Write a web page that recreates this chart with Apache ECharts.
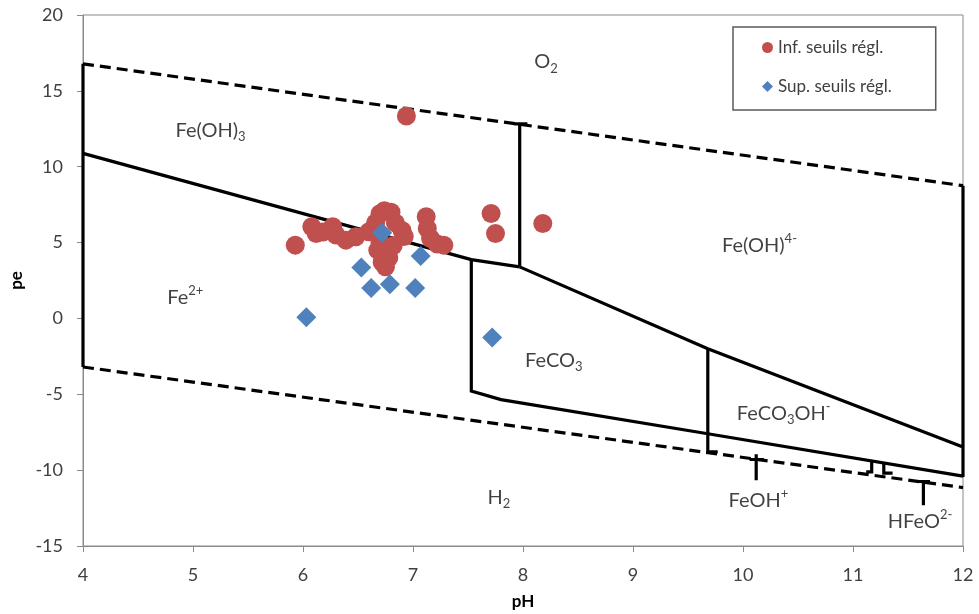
<!DOCTYPE html>
<html>
<head>
<meta charset="utf-8">
<script src="https://cdn.jsdelivr.net/npm/echarts@6/dist/echarts.min.js"></script>
<style>html,body{margin:0;padding:0;background:#fff}#c{width:979px;height:614px}</style>
</head>
<body>
<div id="c"></div>
<script>
// Scatter data: pH / pe
var infPH = [5.93, 6.08, 6.12, 6.18, 6.27, 6.30, 6.39, 6.48, 6.60, 6.66, 6.70, 6.74, 6.80, 6.84, 6.90, 6.92, 6.68, 6.72, 6.75, 6.78, 6.82, 6.70, 7.12, 7.13, 7.16, 7.22, 7.28, 7.71, 7.75, 8.18, 6.94];
var infPE = [4.83, 6.04, 5.60, 5.70, 6.04, 5.50, 5.16, 5.38, 5.71, 6.30, 6.90, 7.10, 7.00, 6.30, 5.80, 5.40, 4.50, 3.70, 3.40, 4.00, 4.80, 5.00, 6.70, 5.93, 5.27, 4.90, 4.83, 6.92, 5.60, 6.26, 13.34];
var supPH = [6.03, 7.72, 6.53, 6.62, 6.79, 7.02, 7.07, 6.72];
var supPE = [0.08, -1.26, 3.36, 2.01, 2.26, 2.01, 4.12, 5.64];

// Domain boundaries [pH, pe]
var waterUpper = [[4, 16.78], [12, 8.75]];
var waterLower = [[4, -3.2], [12, -11.15]];
var leftEdge = [[4, 16.78], [4, -3.2]];
var rightEdge = [[12, 8.75], [12, -10.45]];
var feOH3Fe2 = [[4, 10.88], [7.53, 3.88], [7.97, 3.4]];
var feOH3FeOH4 = [[7.97, 3.4], [7.97, 12.82]];
var feOH3FeOH4Cap = [[7.92, 12.82], [8.04, 12.82]];
var feOH4Lower = [[7.97, 3.4], [9.68, -2.0], [12, -8.48]];
var feCO3Lower = [[7.53, 3.88], [7.53, -4.78], [7.8, -5.35], [9.68, -7.6], [12, -10.39]];
var feCO3OH = [[9.68, -2.0], [9.68, -8.8], [9.77, -8.8]];
var feOHTick = [[10.12, -8.95], [10.12, -10.67]];
var feOHCap = [[10.06, -9.3], [10.19, -9.3]];
var tickA = [[11.17, -9.45], [11.17, -10.12], [11.12, -10.12]];
var tickB = [[11.28, -9.6], [11.28, -10.2], [11.36, -10.2]];
var hfeoTick = [[11.64, -10.67], [11.64, -12.32]];
var hfeoCap = [[11.58, -10.75], [11.70, -10.75]];

// Domain labels
var regionText = ['{b|O}{sub|2}', '{b|Fe(OH)}{sub|3}', '{b|Fe}{sup|2+}', '{b|FeCO}{sub|3}', '{b|Fe(OH)}{sup|4-}', '{b|FeCO}{sub|3}{b|OH}{sup|-}', '{b|H}{sub|2}', '{b|FeOH}{sup|+}', '{b|HFeO}{sup|2-}'];
var regionPH = [8.21, 5.16, 4.93, 8.28, 10.15, 10.37, 7.78, 10.14, 11.61];
var regionPE = [16.9, 12.4, 1.4, -2.76, 4.8, -6.25, -11.8, -12.0, -13.4];

var xTicks = [4, 5, 6, 7, 8, 9, 10, 11, 12];
var yTicks = [-15, -10, -5, 0, 5, 10, 15, 20];

var FONT = 'Lato';
function zip(a, b) { return a.map(function (v, i) { return [v, b[i]]; }); }

var solidLines = [leftEdge, rightEdge, feOH3Fe2, feOH3FeOH4, feOH3FeOH4Cap, feOH4Lower, feCO3Lower, feCO3OH, feOHTick, feOHCap, tickA, tickB, hfeoTick, hfeoCap];
var dashedLines = [waterUpper, waterLower];

var series = [];
dashedLines.forEach(function (d) {
  series.push({ type: 'line', data: d, symbol: 'none', silent: true, z: 2,
    lineStyle: { color: '#000', width: 3.2, type: [11, 6] } });
});
solidLines.forEach(function (d) {
  series.push({ type: 'line', data: d, symbol: 'none', silent: true, z: 3,
    lineStyle: { color: '#000', width: 3.2, type: 'solid', join: 'miter' } });
});
series.push({ name: 'Inf. seuils régl.', type: 'scatter', data: zip(infPH, infPE), symbol: 'circle', symbolSize: 19, z: 5,
  itemStyle: { color: '#C0504D', opacity: 1 } });
series.push({ name: 'Sup. seuils régl.', type: 'scatter', data: zip(supPH, supPE), symbol: 'diamond', symbolSize: 20, z: 6,
  itemStyle: { color: '#4F81BD', opacity: 1 } });
series.push({ type: 'scatter', silent: true, z: 7,
  data: regionPH.map(function (p, i) { return { value: [p, regionPE[i]], label: { formatter: regionText[i] } }; }),
  symbolSize: 1, itemStyle: { color: 'rgba(0,0,0,0)' },
  label: { show: true, position: 'inside', color: '#111', fontFamily: FONT,
    rich: {
      b: { fontSize: 20, lineHeight: 26, fontFamily: FONT, color: '#111' },
      sub: { fontSize: 13, lineHeight: 13, verticalAlign: 'bottom', fontFamily: FONT, color: '#111' },
      sup: { fontSize: 13, lineHeight: 13, verticalAlign: 'top', fontFamily: FONT, color: '#111' }
    } } });

var chart = echarts.init(document.getElementById('c'));
chart.setOption({
  animation: false,
  backgroundColor: '#fff',
  textStyle: { fontFamily: FONT },
  grid: { left: 83, right: 16, top: 15, bottom: 68, show: true, borderColor: '#8a8a8a', borderWidth: 1,
    containLabel: false, outerBoundsMode: 'none' },
  legend: {
    data: ['Inf. seuils régl.', 'Sup. seuils régl.'],
    orient: 'vertical', left: 733, top: 27,
    padding: [12, 44, 15, 29], itemGap: 22, itemWidth: 11, itemHeight: 11,
    borderColor: '#595959', borderWidth: 1.5, backgroundColor: '#fff',
    textStyle: { fontSize: 17, color: '#404040', fontFamily: FONT }
  },
  xAxis: {
    type: 'value', min: xTicks[0], max: xTicks[xTicks.length - 1], interval: 1,
    name: 'pH', nameLocation: 'middle', nameGap: 47,
    nameTextStyle: { fontSize: 17, fontWeight: 'bold', color: '#000', fontFamily: FONT },
    axisLine: { onZero: false, lineStyle: { color: '#8a8a8a', width: 1 } },
    axisTick: { show: true, length: 6, lineStyle: { color: '#8a8a8a' } },
    axisLabel: { fontSize: 18, color: '#404040', margin: 20, fontFamily: FONT },
    splitLine: { show: false }
  },
  yAxis: {
    type: 'value', min: yTicks[0], max: yTicks[yTicks.length - 1], interval: 5,
    name: 'pe', nameLocation: 'middle', nameGap: 57, nameRotate: 90,
    nameTextStyle: { fontSize: 17, fontWeight: 'bold', color: '#000', fontFamily: FONT },
    axisLine: { show: true, onZero: false, lineStyle: { color: '#8a8a8a', width: 1 } },
    axisTick: { show: true, length: 6, lineStyle: { color: '#8a8a8a' } },
    axisLabel: { fontSize: 18, color: '#404040', margin: 20, fontFamily: FONT },
    splitLine: { show: false }
  },
  series: series
});
</script>
</body>
</html>
